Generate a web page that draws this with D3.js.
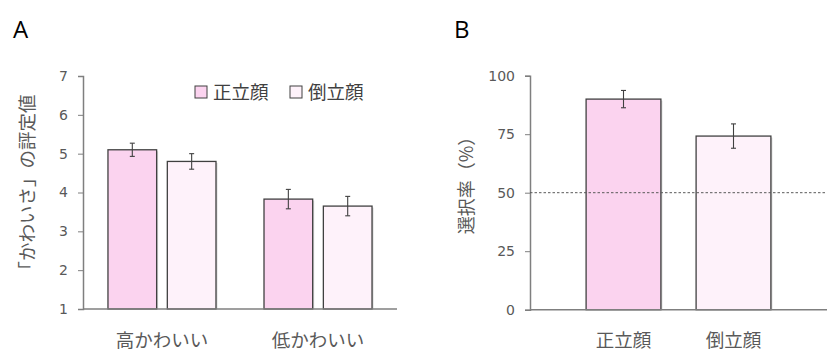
<!DOCTYPE html>
<html><head><meta charset="utf-8">
<script src="https://cdn.jsdelivr.net/npm/d3@7"></script>
<style>body{margin:0;background:#fff}text{font-family:"Noto Sans CJK JP","Noto Sans",sans-serif}</style>
</head><body>
<svg id="c" width="840" height="358"></svg>
<script>
// Panel A data
const groupsA = ["高かわいい", "低かわいい"];
const seriesNames = ["正立顔", "倒立顔"];
const uprightA = [5.1, 3.83];
const invertedA = [4.8, 3.65];
const uprightErrA = [0.17, 0.25];
const invertedErrA = [0.2, 0.25];
const ticksA = [1, 2, 3, 4, 5, 6, 7];
// Panel B data
const categoriesB = ["正立顔", "倒立顔"];
const valuesB = [90.0, 74.2];
const errB = [3.7, 5.2];
const ticksB = [0, 25, 50, 75, 100];
const chanceB = 50;

const colors = ["#FBD3EF", "#FEF2FA"];
const svg = d3.select("#c");
const tickCol = "#595959";
const labelSize = "18.5px";

function styleAxis(g){
  g.select(".domain").attr("stroke", "#7f7f7f").attr("stroke-width", 1.5);
  g.selectAll(".tick line").attr("stroke", "#7f7f7f");
  g.selectAll(".tick text").attr("fill", tickCol).style("font-size", "14px").style("font-family", "Verdana, 'DejaVu Sans', sans-serif");
}

// ---------- Panel A ----------
{
  const x0 = 83, x1 = 397, yTop = 76, yBot = 309;
  const y = d3.scaleLinear().domain([1, 7]).range([yBot, yTop]);
  const xg = d3.scaleBand().domain(groupsA).range([x0, x1]).paddingInner(0.3077).paddingOuter(0.16);
  const xs = d3.scaleBand().domain(seriesNames).range([0, xg.bandwidth()]).paddingInner(0.18);
  const yAx = svg.append("g").attr("transform", `translate(${x0},0)`)
    .call(d3.axisLeft(y).tickValues(ticksA).tickFormat(d3.format("d")).tickSize(5).tickPadding(10));
  styleAxis(yAx);

  const data = [];
  groupsA.forEach((gname, i) => {
    data.push({g: gname, s: seriesNames[0], v: uprightA[i], e: uprightErrA[i], c: colors[0]});
    data.push({g: gname, s: seriesNames[1], v: invertedA[i], e: invertedErrA[i], c: colors[1]});
  });
  const bars = svg.append("g");
  bars.selectAll("rect.sh").data(data).join("rect")
    .attr("x", d => xg(d.g) + xs(d.s) + 1.5).attr("y", d => y(d.v) + 1.5)
    .attr("width", xs.bandwidth()).attr("height", d => yBot - y(d.v) - 1.5)
    .attr("fill", "#d8d8d8");
  bars.selectAll("rect.b").data(data).join("rect")
    .attr("x", d => xg(d.g) + xs(d.s)).attr("y", d => y(d.v))
    .attr("width", xs.bandwidth()).attr("height", d => yBot - y(d.v))
    .attr("fill", d => d.c).attr("stroke", "#404040").attr("stroke-width", 1.3);
  const eb = svg.append("g").attr("stroke", "#404040").attr("stroke-width", 1.1);
  data.forEach(d => {
    const cx = xg(d.g) + xs(d.s) + xs.bandwidth() / 2;
    eb.append("line").attr("x1", cx).attr("x2", cx).attr("y1", y(d.v + d.e)).attr("y2", y(d.v - d.e));
    eb.append("line").attr("x1", cx - 2.5).attr("x2", cx + 2.5).attr("y1", y(d.v + d.e)).attr("y2", y(d.v + d.e));
    eb.append("line").attr("x1", cx - 2.5).attr("x2", cx + 2.5).attr("y1", y(d.v - d.e)).attr("y2", y(d.v - d.e));
  });
  svg.append("line").attr("x1", x0).attr("x2", x1).attr("y1", yBot).attr("y2", yBot)
    .attr("stroke", "#7f7f7f").attr("stroke-width", 1.5);
  svg.append("g").selectAll("text").data(groupsA).join("text")
    .attr("x", d => xg(d) + xg.bandwidth() / 2).attr("y", 347)
    .attr("text-anchor", "middle").attr("fill", tickCol).style("font-size", labelSize).text(d => d);
  svg.append("text").attr("transform", "translate(34,187) rotate(-90)")
    .attr("text-anchor", "middle").attr("fill", tickCol).style("font-size", labelSize).text("「かわいさ」の評定値");
  // legend
  const lg = svg.append("g");
  const lx = [195, 290];
  seriesNames.forEach((s, i) => {
    lg.append("rect").attr("x", lx[i]).attr("y", 86).attr("width", 12).attr("height", 12)
      .attr("fill", colors[i]).attr("stroke", "#404040").attr("stroke-width", 1);
    lg.append("text").attr("x", lx[i] + 18).attr("y", 99).attr("fill", "#404040")
      .style("font-size", labelSize).text(s);
  });
  svg.append("text").attr("x", 13).attr("y", 38).style("font-family", "'Open Sans','DejaVu Sans',sans-serif")
    .style("font-size", "24px").attr("fill", "#000").text("A");
}

// ---------- Panel B ----------
{
  const x0 = 530, x1 = 827, yTop = 75.7, yBot = 309.7;
  const y = d3.scaleLinear().domain([0, 100]).range([yBot, yTop]);
  const x = d3.scaleBand().domain(categoriesB).range([x0, x1]).paddingInner(0.32).paddingOuter(0.51);
  const yAx = svg.append("g").attr("transform", `translate(${x0},0)`)
    .call(d3.axisLeft(y).tickValues(ticksB).tickFormat(d3.format("d")).tickSize(5).tickPadding(10));
  styleAxis(yAx);
  const bars = svg.append("g");
  bars.selectAll("rect.sh").data(categoriesB).join("rect")
    .attr("x", d => x(d) + 1.5).attr("y", (d, i) => y(valuesB[i]) + 1.5)
    .attr("width", x.bandwidth()).attr("height", (d, i) => yBot - y(valuesB[i]) - 1.5).attr("fill", "#d8d8d8");
  bars.selectAll("rect.b").data(categoriesB).join("rect")
    .attr("x", d => x(d)).attr("y", (d, i) => y(valuesB[i]))
    .attr("width", x.bandwidth()).attr("height", (d, i) => yBot - y(valuesB[i]))
    .attr("fill", (d, i) => colors[i]).attr("stroke", "#404040").attr("stroke-width", 1.3);
  svg.append("line").attr("x1", x0).attr("x2", x1).attr("y1", y(chanceB)).attr("y2", y(chanceB))
    .attr("stroke", "#595959").attr("stroke-width", 1).attr("stroke-dasharray", "2.5,2");
  const eb = svg.append("g").attr("stroke", "#404040").attr("stroke-width", 1.1);
  categoriesB.forEach((c, i) => {
    const cx = x(c) + x.bandwidth() / 2;
    const v = valuesB[i], e = errB[i];
    eb.append("line").attr("x1", cx).attr("x2", cx).attr("y1", y(v + e)).attr("y2", y(v - e));
    eb.append("line").attr("x1", cx - 2.5).attr("x2", cx + 2.5).attr("y1", y(v + e)).attr("y2", y(v + e));
    eb.append("line").attr("x1", cx - 2.5).attr("x2", cx + 2.5).attr("y1", y(v - e)).attr("y2", y(v - e));
  });
  svg.append("line").attr("x1", x0).attr("x2", x1).attr("y1", yBot).attr("y2", yBot)
    .attr("stroke", "#7f7f7f").attr("stroke-width", 1.5);
  svg.append("g").selectAll("text").data(categoriesB).join("text")
    .attr("x", d => x(d) + x.bandwidth() / 2).attr("y", 347)
    .attr("text-anchor", "middle").attr("fill", tickCol).style("font-size", labelSize).text(d => d);
  svg.append("text").attr("transform", "translate(473,181) rotate(-90)")
    .attr("text-anchor", "middle").attr("fill", tickCol).style("font-size", "18px").text("選択率（%）");
  svg.append("text").attr("x", 454).attr("y", 38).style("font-family", "'Open Sans','DejaVu Sans',sans-serif")
    .style("font-size", "24px").attr("fill", "#000").text("B");
}
</script>
</body></html>
